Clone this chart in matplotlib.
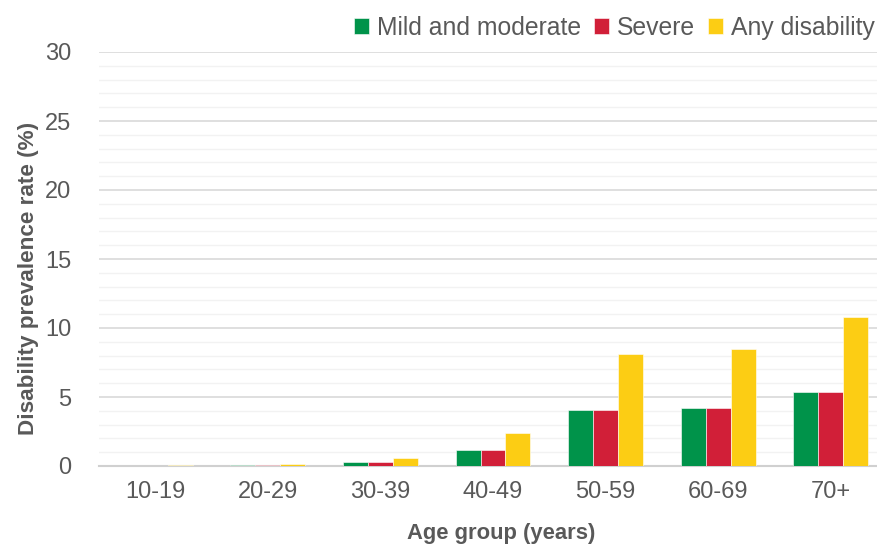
import numpy as np
import matplotlib.pyplot as plt
from matplotlib.ticker import MultipleLocator

# Disability prevalence by age group
age_groups = ["10-19", "20-29", "30-39", "40-49", "50-59", "60-69", "70+"]
mild_moderate = [0.02, 0.08, 0.27, 1.18, 4.05, 4.2, 5.35]
severe = [0.02, 0.08, 0.27, 1.18, 4.05, 4.2, 5.35]
any_disability = [0.04, 0.12, 0.56, 2.4, 8.15, 8.5, 10.8]

series = [
    ("Mild and moderate", mild_moderate, "#00934A"),
    ("Severe", severe, "#D11F38"),
    ("Any disability", any_disability, "#FCCD14"),
]

text_col = "#595959"
plt.rcParams["font.family"] = ["Liberation Sans", "DejaVu Sans"]

fig = plt.figure(figsize=(8.78, 5.44), dpi=100)
ax = fig.add_axes([99 / 878, 1 - 466 / 544, 788 / 878, 414 / 544])

x = np.arange(len(age_groups))
w = 0.222
for i, (name, vals, col) in enumerate(series):
    ax.bar(x + (i - 1) * w, vals, w, color=col, label=name,
           edgecolor="white", linewidth=0.4, zorder=3)

ax.set_xlim(-0.5, len(age_groups) - 0.5)
ax.set_ylim(0, 30)
ax.yaxis.set_major_locator(MultipleLocator(5))
ax.yaxis.set_minor_locator(MultipleLocator(1))
ax.grid(axis="y", which="major", color="#D9D9D9", linewidth=1.2, zorder=0)
ax.grid(axis="y", which="minor", color="#F2F2F2", linewidth=1.0, zorder=0)

for s in ["top", "right", "left"]:
    ax.spines[s].set_visible(False)
ax.spines["bottom"].set_color("#D0D0D0")
ax.spines["bottom"].set_linewidth(1.5)

ax.set_xticks(x)
ax.set_xticklabels(age_groups)
ax.tick_params(axis="both", which="both", length=0, colors=text_col, labelsize=17)
ax.tick_params(axis="x", pad=11)
ax.tick_params(axis="y", pad=20)

ax.set_xlabel("Age group (years)", fontsize=15.8, fontweight="bold", color=text_col)
ax.set_ylabel("Disability prevalence rate (%)", fontsize=16.2, fontweight="bold", color=text_col)
ax.xaxis.set_label_coords(0.511, -0.138)
ax.yaxis.set_label_coords(-0.076, 0.452)

leg = fig.legend(*ax.get_legend_handles_labels(), loc="upper right",
                 bbox_to_anchor=(1.0 + 7 / 878, 1 - 6 / 544), ncol=3, frameon=False,
                 fontsize=17.8, handlelength=0.6, handleheight=0.6, handletextpad=0.35,
                 columnspacing=0.5, borderaxespad=0)
for t in leg.get_texts():
    t.set_color(text_col)

fig.savefig("out.png", dpi=100)
